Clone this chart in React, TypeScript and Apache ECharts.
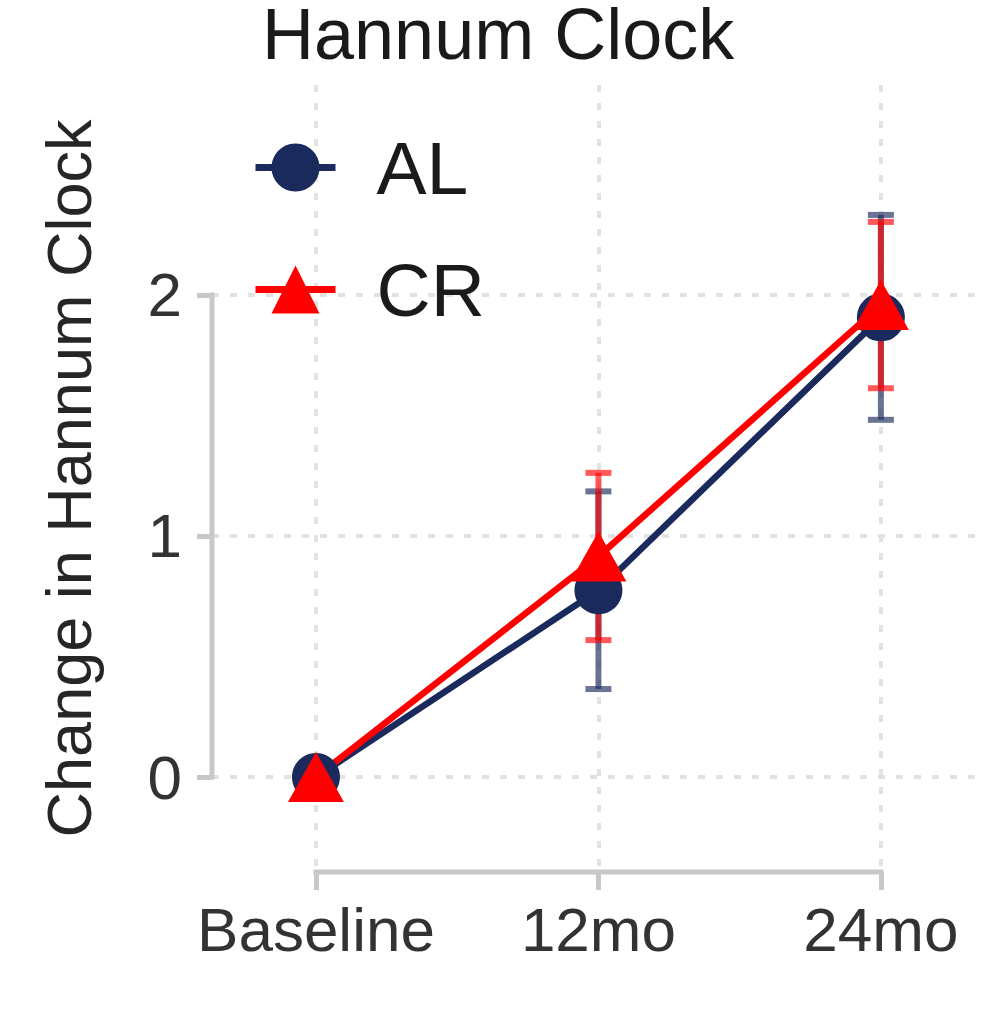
import React, { useEffect, useRef } from "react";
import * as echarts from "echarts";

const categories = ["Baseline", "12mo", "24mo"];
const alMean = [0, 0.775, 1.907];
const alErr = [0, 0.41, 0.425];
const crMean = [0, 0.915, 1.958];
const crErr = [0, 0.347, 0.345];
const yTicks = [0, 1, 2];
const xTicks = [0, 1, 2];

const X_MIN = -0.368;
const X_MAX = 2.365;
const Y_MIN = -0.394;
const Y_MAX = 2.871;

const FONT = "'Liberation Sans', Arial, Helvetica, sans-serif";
const NAVY = "#1b2a5c";
const RED = "#ff0000";

function errorSeries(name: string, mean: number[], err: number[], color: string) {
  return {
    name,
    type: "custom",
    coordinateSystem: "cartesian2d",
    z: 2,
    silent: true,
    data: mean.map((m, i) => [i, m, err[i]]),
    encode: { x: 0, y: 1 },
    renderItem: (params: any, api: any) => {
      const x = api.value(0);
      const m = api.value(1);
      const e = api.value(2);
      if (!e) return { type: "group", children: [] };
      const top = api.coord([x, m + e]);
      const bot = api.coord([x, m - e]);
      const hw = 13;
      const style = { stroke: color, lineWidth: 6 };
      return {
        type: "group",
        children: [
          { type: "line", shape: { x1: top[0], y1: top[1], x2: bot[0], y2: bot[1] }, style },
          { type: "line", shape: { x1: top[0] - hw, y1: top[1], x2: top[0] + hw, y2: top[1] }, style },
          { type: "line", shape: { x1: bot[0] - hw, y1: bot[1], x2: bot[0] + hw, y2: bot[1] }, style },
        ],
      };
    },
  };
}

export default function App() {
  const ref = useRef<HTMLDivElement>(null);
  useEffect(() => {
    if (!ref.current) return;
    const chart = echarts.init(ref.current, null, { renderer: "svg" });
    const axisColor = "#c8c8c8";
    const gridLine = { color: "#e2e2e2", width: 4, type: [7, 11] };
    chart.setOption({
      animation: false,
      backgroundColor: "#ffffff",
      title: {
        text: "Hannum Clock",
        left: 262,
        top: 1,
        padding: 0,
        textStyle: {
          fontSize: 72,
          lineHeight: 66,
          fontWeight: "normal",
          color: "#1a1a1a",
          fontFamily: FONT,
        },
      },
      legend: {
        data: ["AL", "CR"],
        orient: "vertical",
        left: 252,
        top: 130,
        padding: 0,
        itemWidth: 80,
        itemHeight: 60,
        itemGap: 47,
        selectedMode: false,
        lineStyle: { width: 7 },
        textStyle: {
          fontSize: 75,
          color: "#1a1a1a",
          fontFamily: FONT,
          lineHeight: 60,
          padding: [0, 0, 0, 36],
        },
      },
      grid: { left: 212, right: 0, top: 85, bottom: 144, containLabel: false },
      xAxis: {
        type: "value",
        min: X_MIN,
        max: X_MAX,
        axisLine: { show: false, onZero: false },
        axisTick: {
          show: true,
          customValues: xTicks,
          length: 18,
          lineStyle: { color: axisColor, width: 5 },
        },
        axisLabel: {
          customValues: xTicks,
          margin: 26,
          fontSize: 62,
          color: "#333333",
          fontFamily: FONT,
          formatter: (v: number) => categories[Math.round(v)] ?? "",
        },
        splitLine: { show: true, lineStyle: gridLine },
      },
      yAxis: {
        type: "value",
        min: Y_MIN,
        max: Y_MAX,
        name: "Change in Hannum Clock",
        nameLocation: "middle",
        nameGap: 112,
        nameTextStyle: { fontSize: 63, color: "#262626", fontFamily: FONT },
        axisLine: { show: false, onZero: false },
        axisTick: {
          show: true,
          customValues: yTicks,
          length: 15,
          lineStyle: { color: axisColor, width: 5 },
        },
        axisLabel: {
          customValues: yTicks,
          margin: 30,
          fontSize: 62,
          color: "#333333",
          fontFamily: FONT,
        },
        splitLine: { show: true, lineStyle: gridLine },
      },
      series: [
        {
          name: "frame",
          type: "custom",
          coordinateSystem: "cartesian2d",
          z: 1,
          silent: true,
          data: [[0, 0]],
          encode: { x: 0, y: 1 },
          renderItem: (params: any, api: any) => {
            const y0 = api.coord([X_MIN, yTicks[0]]);
            const y1 = api.coord([X_MIN, yTicks[yTicks.length - 1]]);
            const x0 = api.coord([xTicks[0], Y_MIN]);
            const x1 = api.coord([xTicks[xTicks.length - 1], Y_MIN]);
            const style = { stroke: axisColor, lineWidth: 5, lineCap: "square" };
            return {
              type: "group",
              children: [
                { type: "line", shape: { x1: y0[0], y1: y0[1], x2: y1[0], y2: y1[1] }, style },
                { type: "line", shape: { x1: x0[0], y1: x0[1], x2: x1[0], y2: x1[1] }, style },
              ],
            };
          },
        },
        errorSeries("AL err", alMean, alErr, "rgba(27,42,92,0.65)"),
        errorSeries("CR err", crMean, crErr, "rgba(255,0,0,0.65)"),
        {
          name: "AL",
          type: "line",
          z: 3,
          data: alMean.map((v, i) => [i, v]),
          symbol: "circle",
          symbolSize: 48,
          showSymbol: true,
          lineStyle: { color: NAVY, width: 6.5 },
          itemStyle: { color: NAVY },
          emphasis: { disabled: true },
        },
        {
          name: "CR",
          type: "line",
          z: 3,
          data: crMean.map((v, i) => [i, v]),
          symbol: "triangle",
          symbolSize: [56, 50],
          showSymbol: true,
          lineStyle: { color: RED, width: 6.5 },
          itemStyle: { color: RED },
          emphasis: { disabled: true },
        },
      ],
    });
    return () => chart.dispose();
  }, []);
  return (
    <div
      ref={ref}
      style={{ position: "absolute", left: 0, top: 0, width: 984, height: 1016 }}
    />
  );
}
